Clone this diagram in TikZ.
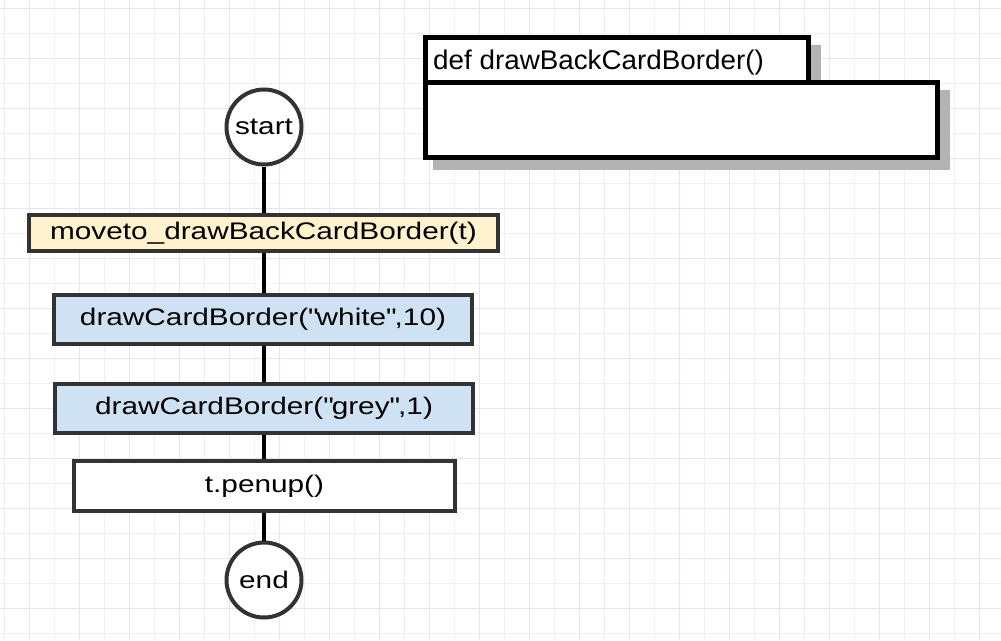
\documentclass[tikz,border=0pt]{standalone}
\usepackage{fontspec}
\setmainfont{Liberation Sans}[FakeStretch=1.24]
\newfontfamily\titlefont{Liberation Sans}[FakeStretch=1.03]
\definecolor{gridmajor}{RGB}{228,228,248}
\definecolor{gridminor}{RGB}{240,240,248}
\definecolor{edgegray}{RGB}{51,51,51}
\definecolor{shadowgray}{RGB}{179,179,179}
\definecolor{yellowfill}{RGB}{255,242,204}
\definecolor{bluefill}{RGB}{207,226,243}
\tikzset{
  flowfont/.style={font=\fontsize{24}{28}\selectfont},
  terminal/.style={circle, draw=edgegray, line width=4pt, fill=white, minimum size=75pt, inner sep=0pt, flowfont},
  stepbox/.style={rectangle, draw=edgegray, line width=4pt, inner sep=0pt, flowfont},
  link/.style={line width=4pt, draw=black},
  titlebox/.style={draw=black, line width=5pt, fill=white},
  shadowbox/.style={fill=shadowgray, draw=none}
}
\begin{document}
\begin{tikzpicture}[x=1pt, y=-1pt]
\useasboundingbox (0,0) rectangle (1001,640);
\fill[white] (0,0) rectangle (1001,640);
% grid
\foreach \x in {4,29,...,1000} \draw[gridminor, line width=1pt] (\x,0) -- (\x,640);
\foreach \y in {8,33,...,640} \draw[gridminor, line width=1pt] (0,\y) -- (1001,\y);
\foreach \x in {29,79,...,1000} \draw[gridmajor, line width=1pt] (\x,0) -- (\x,640);
\foreach \y in {8,58,...,640} \draw[gridmajor, line width=1pt] (0,\y) -- (1001,\y);
% title block
\fill[shadowgray] (432.5,45) rectangle (820.5,95);
\fill[shadowgray] (432.5,90) rectangle (949.5,169.5);
\draw[titlebox] (425,37.5) rectangle (808,82.5);
\draw[titlebox] (425,82.5) rectangle (937,157);
\node[anchor=base west, inner sep=0pt, font=\titlefont\fontsize{27}{31}\selectfont] (title) at (433,69) {def drawBackCardBorder()};
% flow
\node[terminal] (start) at (264,127) {start};
\node[stepbox, fill=yellowfill, minimum width=469pt, minimum height=36pt] (moveto) at (263.5,233) {moveto\_drawBackCardBorder(t)};
\node[stepbox, fill=bluefill, minimum width=418pt, minimum height=49pt] (white) at (263,319.5) {drawCardBorder(\textquotedbl white\textquotedbl,10)};
\node[stepbox, fill=bluefill, minimum width=418pt, minimum height=49pt] (grey) at (264,408.5) {drawCardBorder(\textquotedbl grey\textquotedbl,1)};
\node[stepbox, fill=white, minimum width=381pt, minimum height=50pt] (penup) at (264.5,486) {t.penup()};
\node[terminal] (end) at (264,580) {end};
\draw[link] (start.south) -- (start.south |- moveto.north);
\draw[link] (moveto.south -| start.south) -- (start.south |- white.north);
\draw[link] (white.south -| start.south) -- (start.south |- grey.north);
\draw[link] (grey.south -| start.south) -- (start.south |- penup.north);
\draw[link] (penup.south -| start.south) -- (end.north);
\end{tikzpicture}
\end{document}
